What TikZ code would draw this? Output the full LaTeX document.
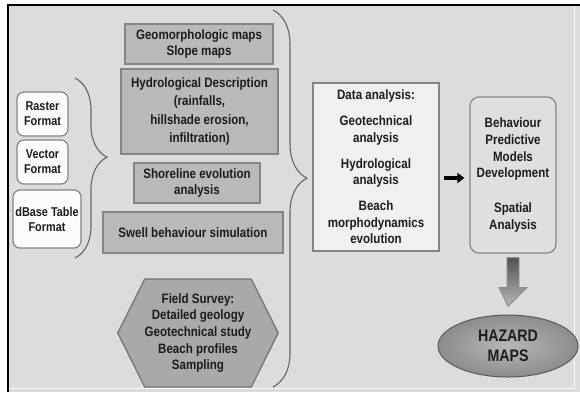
\documentclass[tikz,border=0pt]{standalone}
\usepackage{fontspec}
\setmainfont{Liberation Sans}[FakeStretch=0.85]
\usetikzlibrary{shapes.geometric,shapes.symbols,decorations.pathreplacing,arrows.meta,calc}
\definecolor{bggray}{HTML}{DCDCDC}
\definecolor{boxgray}{HTML}{B9B9B9}
\definecolor{hexgray}{HTML}{A9A9A9}
\definecolor{edgegray}{HTML}{858585}
\definecolor{txtgray}{HTML}{1C1C1C}
\begin{document}
\begin{tikzpicture}[x=1pt,y=-1pt,
    every node/.style={text=txtgray, font=\bfseries\fontsize{13.6}{16.7}\selectfont, align=center, inner sep=0pt},
    src/.style={draw=edgegray, fill=boxgray, line width=1.2pt, minimum width=#1},
    fmt/.style={draw=edgegray, fill=white!97!gray, line width=1.2pt, rounded corners=7pt,
        font=\bfseries\fontsize{12.8}{15}\selectfont},
    res/.style={draw=edgegray, line width=1.2pt},
    curly/.style={draw=black!60, line width=1.1pt, decorate}]
    \useasboundingbox (0,0) rectangle (580,392);
    \fill[white] (0,0) rectangle (580,392);
    \fill[bggray] (8,5) rectangle (580,392);
    \draw[black, line width=2pt] (8,392) -- (8,5) -- (580,5);
    \draw[white!85!bggray, line width=1pt] (574,6) -- (574,388) -- (9,388);

    % input formats
    \node[fmt, minimum width=51pt, minimum height=44pt] (raster) at (42.5,114) {Raster\\Format};
    \node[fmt, minimum width=51pt, minimum height=44pt] (vector) at (42.5,162) {Vector\\Format};
    \node[fmt, minimum width=68pt, minimum height=58pt] (dbase) at (47,219) {dBase Table\\Format};
    \draw[curly, decoration={brace, amplitude=32pt, aspect=0.44}] (75,78) -- (75,258);

    % thematic data
    \node[src=148pt, minimum height=40pt] (geo) at (199,44) {Geomorphologic maps\\Slope maps};
    \node[src=157pt, minimum height=85pt, font=\bfseries\fontsize{13.6}{18.5}\selectfont] (hydro) at (199.5,111.5)
        {Hydrological Description\\(rainfalls,\\hillshade erosion,\\infiltration)};
    \node[src=126pt, minimum height=40pt] (shore) at (197,183) {Shoreline evolution\\analysis};
    \node[src=180pt, minimum height=41pt] (swell) at (193,232.5) {Swell behaviour simulation};
    \node[signal, signal to=west and east, signal pointer angle=127, draw=edgegray!85!black, fill=hexgray,
        line width=1.2pt, minimum width=146pt, minimum height=108pt] (field) at (198,333)
        {Field Survey:\\Detailed geology\\Geotechnical study\\Beach profiles\\Sampling};
    \draw[curly, decoration={brace, amplitude=34pt, aspect=0.446}] (273,10) -- (273,387);

    % analysis and results
    \node[res, fill=white!88!gray, minimum width=126pt, minimum height=168pt] (data) at (376,167)
        {Data analysis:\\[9pt]Geotechnical\\analysis\\[9pt]Hydrological\\analysis\\[9pt]Beach\\morphodynamics\\evolution};
    \node[res, fill=bggray!92!white, rounded corners=9pt, minimum width=86pt, minimum height=156pt] (beh) at (513,175)
        {Behaviour\\Predictive\\Models\\Development\\[18pt]Spatial\\Analysis};
    \draw[black, line width=3.5pt, -{Triangle[length=7pt,width=10pt]}, shorten <=4pt, shorten >=5pt]
        (data.east |- 0,178) -- (beh.west |- 0,178);

    \node[ellipse, draw=black!65, line width=1pt, inner color=white!72!black, outer color=black!45, shading=radial,
        minimum width=140pt, minimum height=62pt, font=\bfseries\fontsize{16.7}{20}\selectfont] (haz) at (508,346)
        {HAZARD\\MAPS};
    \shade[top color=black!68, bottom color=black!28, draw=black!45, line width=0.8pt]
        ($(beh.south)+(-6,4)$) -- ($(beh.south)+(6,4)$) -- ($(beh.south)+(6,34)$) -- ($(beh.south)+(14,34)$)
        -- ($(haz.north)+(0,-8)$) -- ($(beh.south)+(-14,34)$) -- ($(beh.south)+(-6,34)$) -- cycle;
\end{tikzpicture}
\end{document}
